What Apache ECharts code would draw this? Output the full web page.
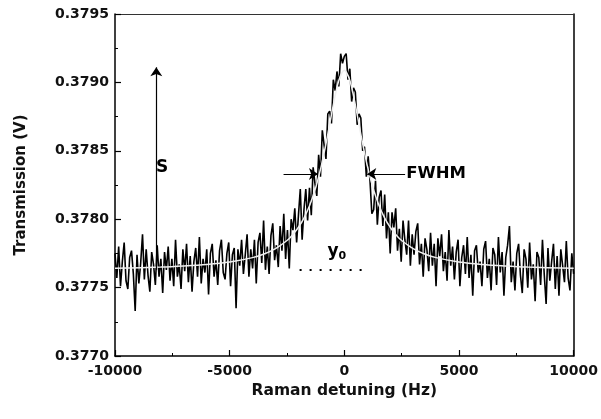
<!DOCTYPE html>
<html>
<head>
<meta charset="utf-8">
<script src="https://cdn.jsdelivr.net/npm/echarts@6/dist/echarts.min.js"></script>
<style>html,body{margin:0;padding:0;background:#fff;}#c{width:601px;height:419px;}</style>
</head>
<body>
<div id="c"></div>
<script>
// Measured sweep: detuning grid (Hz)
const detuningStart = -10000;
const detuningStep = 80;
// Measured transmission (V), one value per detuning step
const transmission = [
0.37775,0.37757,0.37780,0.37751,0.37769,0.37783,0.37755,0.37749,0.37772,0.37777,
0.37760,0.37733,0.37774,0.37753,0.37768,0.37789,0.37756,0.37778,0.37759,0.37747,
0.37776,0.37767,0.37752,0.37781,0.37758,0.37771,0.37746,0.37776,0.37763,0.37780,
0.37755,0.37771,0.37751,0.37785,0.37758,0.37767,0.37749,0.37778,0.37762,0.37782,
0.37754,0.37773,0.37747,0.37769,0.37779,0.37758,0.37787,0.37753,0.37771,0.37761,
0.37778,0.37745,0.37775,0.37782,0.37758,0.37770,0.37752,0.37777,0.37785,0.37761,
0.37756,0.37775,0.37783,0.37751,0.37774,0.37779,0.37735,0.37778,0.37766,0.37785,
0.37760,0.37774,0.37789,0.37758,0.37778,0.37764,0.37785,0.37753,0.37783,0.37790,
0.37768,0.37799,0.37763,0.37780,0.37760,0.37788,0.37797,0.37770,0.37781,0.37765,
0.37795,0.37777,0.37804,0.37771,0.37792,0.37764,0.37800,0.37792,0.37808,0.37783,
0.37803,0.37822,0.37785,0.37807,0.37822,0.37799,0.37823,0.37803,0.37838,0.37826,
0.37817,0.37847,0.37831,0.37865,0.37854,0.37844,0.37877,0.37879,0.37870,0.37902,
0.37894,0.37908,0.37897,0.37921,0.37914,0.37919,0.37921,0.37902,0.37910,0.37886,
0.37896,0.37893,0.37869,0.37877,0.37874,0.37850,0.37853,0.37831,0.37846,0.37828,
0.37804,0.37807,0.37828,0.37796,0.37816,0.37821,0.37795,0.37818,0.37786,0.37805,
0.37775,0.37805,0.37794,0.37808,0.37777,0.37793,0.37769,0.37799,0.37785,0.37774,
0.37799,0.37766,0.37789,0.37774,0.37791,0.37797,0.37767,0.37782,0.37758,0.37786,
0.37778,0.37762,0.37790,0.37766,0.37782,0.37751,0.37786,0.37773,0.37789,0.37762,
0.37776,0.37755,0.37792,0.37766,0.37780,0.37756,0.37776,0.37785,0.37751,0.37772,
0.37781,0.37760,0.37787,0.37757,0.37774,0.37744,0.37777,0.37781,0.37761,0.37769,
0.37751,0.37778,0.37784,0.37757,0.37771,0.37748,0.37779,0.37774,0.37752,0.37787,
0.37761,0.37776,0.37744,0.37772,0.37781,0.37795,0.37754,0.37769,0.37748,0.37775,
0.37782,0.37759,0.37746,0.37778,0.37771,0.37750,0.37783,0.37756,0.37767,0.37740,
0.37776,0.37772,0.37752,0.37785,0.37759,0.37738,0.37779,0.37755,0.37769,0.37782,
0.37749,0.37773,0.37744,0.37778,0.37766,0.37754,0.37784,0.37757,0.37748,0.37775,
0.37760
];
// Lorentzian fit curve
const fitDetuning = [-10000,-8000,-7000,-6000,-5000,-4000,-3500,-3000,-2500,-2250,-2000,-1750,-1500,-1250,-1000,-750,-500,-250,0,250,500,750,1000,1250,1500,1750,2000,2250,2500,3000,3500,4000,5000,6000,7000,8000,10000];
const fitTransmission = [0.377641,0.377650,0.377658,0.377669,0.377687,0.377719,0.377746,0.377785,0.377844,0.377887,0.377941,0.378012,0.378106,0.378230,0.378392,0.378594,0.378818,0.379009,0.379088,0.379009,0.378818,0.378594,0.378392,0.378230,0.378106,0.378012,0.377941,0.377887,0.377844,0.377785,0.377746,0.377719,0.377687,0.377669,0.377658,0.377650,0.377641];
// Annotations
const baselineY0 = 0.37763;
const signalArrowX = -8200, signalTop = 0.37911;
const fwhmLevel = 0.37833;
const fwhmLeftArrow = [-2650, -1150];
const fwhmRightArrow = [2650, 1000];
const y0Dots = [-1950, 1100];
const labelS = [-7950, 0.37838];
const labelFWHM = [2700, 0.37833];
const labelY0 = [-330, 0.37776];

const FONT = 'DejaVu Sans';
const measured = transmission.map((v, i) => [detuningStart + i * detuningStep, v]);
const fit = fitDetuning.map((x, i) => [x, fitTransmission[i]]);

const chart = echarts.init(document.getElementById('c'), null, {renderer: 'canvas'});
const arrowLine = {color: '#000', width: 1.2, type: 'solid'};
chart.setOption({
  animation: false,
  backgroundColor: '#fff',
  grid: {left: 115, right: 25, top: 14, bottom: 63},
  xAxis: [{
    type: 'value', min: -10000, max: 10000, interval: 5000,
    name: 'Raman detuning (Hz)', nameLocation: 'middle', nameGap: 27,
    nameTextStyle: {fontFamily: FONT, fontWeight: 'bold', fontSize: 15.5, color: '#111'},
    axisLine: {show: true, onZero: false, lineStyle: {color: '#000', width: 1.5}},
    axisTick: {show: true, inside: true, length: 6, lineStyle: {color: '#000', width: 1.2}},
    minorTick: {show: true, splitNumber: 2, length: 3, lineStyle: {color: '#000', width: 1}},
    axisLabel: {fontFamily: FONT, fontWeight: 'bold', fontSize: 14, color: '#111', margin: 8,
      formatter: v => String(v)},
    splitLine: {show: false}
  }, {
    type: 'value', position: 'top', min: -10000, max: 10000,
    axisLine: {show: true, onZero: false, lineStyle: {color: '#333', width: 1}},
    axisTick: {show: false}, axisLabel: {show: false}, splitLine: {show: false}
  }],
  yAxis: [{
    type: 'value', min: 0.3770, max: 0.3795, interval: 0.0005,
    name: 'Transmission (V)', nameLocation: 'middle', nameGap: 86,
    nameTextStyle: {fontFamily: FONT, fontWeight: 'bold', fontSize: 15, color: '#111'},
    axisLine: {show: true, onZero: false, lineStyle: {color: '#000', width: 1.5}},
    axisTick: {show: true, inside: true, length: 6, lineStyle: {color: '#000', width: 1.2}},
    minorTick: {show: true, splitNumber: 2, length: 3, lineStyle: {color: '#000', width: 1}},
    axisLabel: {fontFamily: FONT, fontWeight: 'bold', fontSize: 14, color: '#111', margin: 6,
      formatter: v => v.toFixed(4)},
    splitLine: {show: false}
  }, {
    type: 'value', position: 'right', min: 0.3770, max: 0.3795,
    axisLine: {show: true, onZero: false, lineStyle: {color: '#000', width: 1.5}},
    axisTick: {show: false}, axisLabel: {show: false}, splitLine: {show: false}
  }],
  series: [{
    type: 'line', name: 'data', data: measured, showSymbol: false, symbol: 'none',
    lineStyle: {color: '#000', width: 1.6}, z: 2, silent: true,
    markLine: {
      silent: true, symbol: ['none', 'arrow'], symbolSize: 9, label: {show: false},
      lineStyle: arrowLine,
      data: [
        [{coord: [signalArrowX, baselineY0]}, {coord: [signalArrowX, signalTop]}],
        [{coord: [fwhmLeftArrow[0], fwhmLevel]}, {coord: [fwhmLeftArrow[1], fwhmLevel]}],
        [{coord: [fwhmRightArrow[0], fwhmLevel]}, {coord: [fwhmRightArrow[1], fwhmLevel]}],
        [{coord: [y0Dots[0], baselineY0], symbol: 'none', lineStyle: {type: [2, 8], width: 2, color: '#000'}},
         {coord: [y0Dots[1], baselineY0], symbol: 'none'}]
      ]
    }
  }, {
    type: 'line', name: 'fit', data: fit, smooth: 0.3, showSymbol: false, symbol: 'none',
    lineStyle: {color: '#efefef', width: 1.5}, z: 3, silent: true,
    markPoint: {
      silent: true, symbol: 'circle', symbolSize: 0,
      label: {show: true, position: 'inside', color: '#000', fontFamily: FONT, fontWeight: 'bold'},
      data: [
        {coord: labelS, label: {formatter: 'S', fontSize: 17, align: 'center', verticalAlign: 'middle'}},
        {coord: labelFWHM, label: {formatter: 'FWHM', fontSize: 16.5, align: 'left', verticalAlign: 'middle'}},
        {coord: labelY0, label: {formatter: '{a|y}{b|0}', align: 'center', verticalAlign: 'middle',
          rich: {a: {fontFamily: FONT, fontWeight: 'bold', fontSize: 17, color: '#000', lineHeight: 20, verticalAlign: 'middle'},
                 b: {fontFamily: FONT, fontWeight: 'bold', fontSize: 11, color: '#000', lineHeight: 20, verticalAlign: 'bottom'}}}}
      ]
    }
  }]
});
</script>
</body>
</html>
